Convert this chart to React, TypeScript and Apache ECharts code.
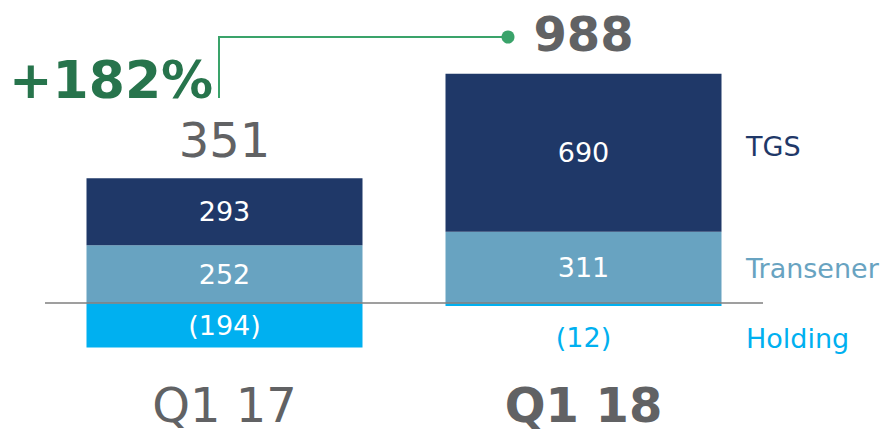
import React, { useEffect, useRef } from 'react';
import * as echarts from 'echarts';

const categories = ['Q1 17', 'Q1 18'];
const holding = [-194, -12];
const transener = [252, 311];
const tgs = [293, 690];
const totals = [351, 988];
const growthLabel = '+182%';
const seriesNames = ['TGS', 'Transener', 'Holding'];

const FONT = '"DejaVu Sans", Verdana, sans-serif';
const C_TGS = '#1F3868';
const C_TRANS = '#68A3C1';
const C_HOLD = '#00B0F0';
const C_GREY = '#616264';
const C_GREEN_TXT = '#27744C';
const C_GREEN_LINE = '#3AA36A';

const fmt = (v: number) => (v < 0 ? `(${-v})` : `${v}`);

export default function App() {
  const ref = useRef<HTMLDivElement>(null);
  useEffect(() => {
    document.body.style.margin = '0';
    const chart = echarts.init(ref.current!, null, { renderer: 'svg' });
    const insideLabel = {
      show: true,
      position: 'inside',
      color: '#FFFFFF',
      fontSize: 27,
      fontFamily: FONT,
      formatter: (p: any) => fmt(p.value),
    };
    chart.setOption({
      animation: false,
      grid: { left: 45, width: 718, top: 28, bottom: 80, containLabel: false, outerBoundsMode: 'none' },
      xAxis: {
        type: 'category',
        data: categories,
        axisLine: { show: false, onZero: false },
        axisTick: { show: false },
        axisLabel: {
          margin: 34,
          formatter: (v: string) => (v === categories[1] ? `{b|${v}}` : `{a|${v}}`),
          rich: {
            a: { fontSize: 48, lineHeight: 44, color: C_GREY, fontFamily: FONT },
            b: { fontSize: 48, lineHeight: 44, color: C_GREY, fontFamily: FONT, fontWeight: 'bold' },
          },
        },
      },
      yAxis: {
        type: 'value',
        min: -200,
        max: 1200,
        show: false,
        splitLine: { show: false },
      },
      series: [
        {
          name: seriesNames[2],
          type: 'bar',
          stack: 'total',
          barWidth: 276,
          itemStyle: { color: C_HOLD },
          label: insideLabel,
          data: holding.map((v, i) =>
            i === 1
              ? { value: v, label: { position: 'inside', offset: [0, 33], color: C_HOLD } }
              : v
          ),
        },
        {
          name: seriesNames[1],
          type: 'bar',
          stack: 'total',
          barWidth: 276,
          itemStyle: { color: C_TRANS },
          label: insideLabel,
          data: transener,
        },
        {
          name: seriesNames[0],
          type: 'bar',
          stack: 'total',
          barWidth: 276,
          itemStyle: { color: C_TGS },
          label: insideLabel,
          data: tgs,
          markLine: {
            silent: true,
            symbol: ['none', 'none'],
            label: { show: false },
            lineStyle: { color: '#7F7F7F', width: 1.5, type: 'solid' },
            data: [{ yAxis: 0 }],
          },
        },
        {
          type: 'scatter',
          symbolSize: 0,
          silent: true,
          itemStyle: { opacity: 1 },
          data: tgs.map((v, i) => ({
            value: v + transener[i],
            label: i === 1 ? { fontWeight: 'bold', distance: 16 } : { fontWeight: 'normal', distance: 14 },
          })),
          label: {
            show: true,
            position: 'top',
            fontSize: 48,
            color: C_GREY,
            opacity: 1,
            fontFamily: FONT,
            formatter: (p: any) => `${totals[p.dataIndex]}`,
          },
        },
      ],
      graphic: [
        {
          type: 'text',
          x: 9,
          y: 80,
          style: {
            text: growthLabel,
            fontSize: 52,
            fontWeight: 'bold',
            fontFamily: FONT,
            fill: C_GREEN_TXT,
            align: 'left',
            verticalAlign: 'middle',
          },
        },
        {
          type: 'polyline',
          shape: { points: [[219, 98], [219, 37], [508, 37]] },
          style: { stroke: C_GREEN_LINE, lineWidth: 2, fill: 'none' },
        },
        {
          type: 'circle',
          shape: { cx: 508, cy: 37, r: 6.5 },
          style: { fill: C_GREEN_LINE },
        },
        {
          type: 'text',
          x: 746,
          y: 146,
          style: { text: seriesNames[0], fontSize: 27, fontFamily: FONT, fill: C_TGS, verticalAlign: 'middle' },
        },
        {
          type: 'text',
          x: 746,
          y: 268,
          style: { text: seriesNames[1], fontSize: 27, fontFamily: FONT, fill: C_TRANS, verticalAlign: 'middle' },
        },
        {
          type: 'text',
          x: 746,
          y: 338,
          style: { text: seriesNames[2], fontSize: 27, fontFamily: FONT, fill: C_HOLD, verticalAlign: 'middle' },
        },
      ],
    });
    return () => chart.dispose();
  }, []);
  return <div ref={ref} style={{ width: 895, height: 429 }} />;
}
